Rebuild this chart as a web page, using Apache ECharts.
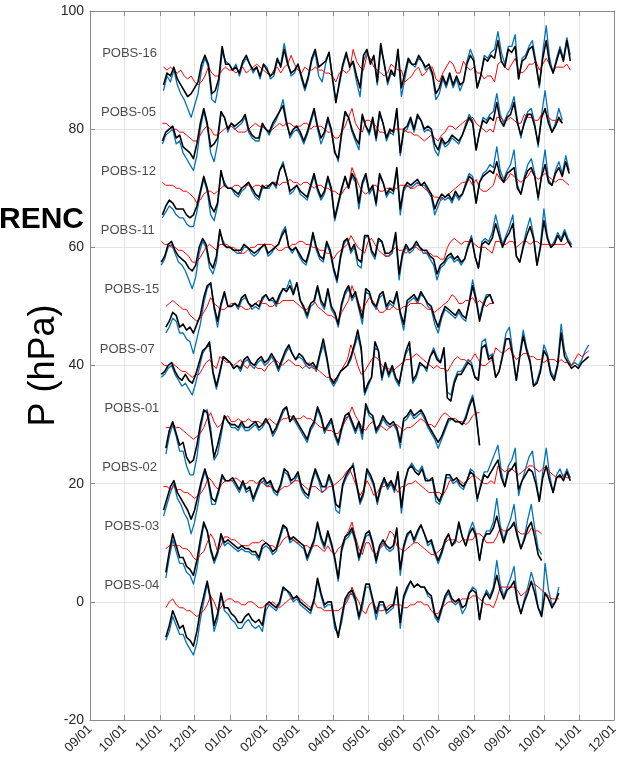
<!DOCTYPE html>
<html>
<head>
<meta charset="utf-8">
<script src="https://cdn.jsdelivr.net/npm/echarts@6/dist/echarts.min.js"></script>
<style>
  html, body { margin: 0; padding: 0; background: #ffffff; }
  #chart { width: 623px; height: 766px; }
</style>
</head>
<body>
<div id="chart"></div>
<script>
// Stations, stacked 10 hPa apart, top to bottom
const stationNames   = ['POBS-16', 'POBS-05', 'POBS-12', 'POBS-11', 'POBS-15', 'POBS-07', 'POBS-01', 'POBS-02', 'POBS-03', 'POBS-04'];
const stationOffsets = [90, 80, 70, 60, 50, 40, 30, 20, 10, 0];
const stationStarts  = ['2018-11-04', '2018-11-03', '2018-11-03', '2018-11-02', '2018-11-06', '2018-11-02', '2018-11-06', '2018-11-04', '2018-11-06', '2018-11-06'];
const STEP_DAYS = 3;

// Pressure anomalies (hPa) sampled every STEP_DAYS days from each station's start
const blue16 = [-3.5,-1,-2,0,-2.5,-4,-5,-6.5,-8,-6,-4,0,2,0.5,-5,-5.5,-2.5,3,1.5,1,
  0,1,-1,1,2,1,-0.5,0.5,-1.5,1,0.5,-1.5,-1,1.5,1,4.5,1.5,-1,-0.5,1,
  -1.5,-3.5,-1.5,1.5,3,-1,-2,1,3,-1,-5,-2.5,0.5,2.5,1,1,-2,-4.5,1.5,3,
  1.5,2,-2.5,3.5,1.5,-2.5,-0.5,-1,3,-4.5,-1.5,1.5,1,0.5,2,1.5,0,0.5,-1,-5,
  -4,-1.5,-3,-1,-3,-1.5,-3.5,-2,1.5,3.5,2,-3,-1,2.5,2,3,3.5,6.5,3,1,
  4,4,6,-1.5,2,2.5,4,5,1.5,-3,3,7.5,2,-0.5,2,4,2,5.5,2.5];
const red16 = [0.5,0,0.5,0,-0.5,0,-1,-1.5,-1,-2,-2.5,-2,-1,0.5,-0.5,-1,-1,0,0.5,0,
  0,-0.5,0,0.5,-0.5,0,0.5,1,0.5,0,-0.5,-1,0,0.5,-0.5,0.5,1,2.5,1,0,
  -0.5,0.5,0,0,0.5,0,0,-0.5,-0.5,-1,-2,-0.5,0,-0.5,0,3.5,1.5,0.5,0,2.5,
  2,0.5,0,-0.5,-1,-0.5,1,0.5,0,0,-2,-1.5,-1,0,0.5,-1,-0.5,0.5,0.5,-1.5,
  -2,-0.5,0.5,1.5,1,-0.5,-0.5,1.5,0.5,0,0.5,-0.5,-0.5,-1.5,-1,-1,-2,1,1.5,0.5,
  0,1,2,0,-0.5,0,1,1,1.5,0,1,2,1,0,0.5,0.5,0.5,1,0];
const black16 = [-2.5,-0.5,-1,0.5,-1.5,-2.5,-3.5,-4.5,-4,-3,-2,1,2.5,1,-4,-3.5,-1.5,4,1,1,
  0,0.5,-0.5,1.5,2.5,1,0,0.5,-1,1,0,-1,-0.5,2,0.5,3.5,1,-0.5,0,1,
  -1,-3,-1,2,3.5,0.5,1,1.5,3,-1.5,-5.5,-2,1,3,0.5,1.5,-1,-3,2.5,3.5,
  1,2.5,-2,4.5,1,-2,0,-1,3.5,-3,-0.5,2,1,1,2.5,1.5,0.5,1,-0.5,-4,
  -3,-1,-2.5,-0.5,-2.5,-1,-2.5,-2,1,2.5,1.5,-3,-1,2,1.5,2.5,2,5,1.5,0.5,
  3.5,3,4,-1.5,1.5,2,3.5,4,1,-2.5,2,5,1,-0.5,1.5,3.5,1.5,5,1.5];

const blue05 = [-2.5,-1,-0.5,0,-2.5,-2,-4,-5,-6,-7,-4.5,0,3,0.5,-4,-5.5,-2.5,2.5,2,-0.5,
  1,0,0.5,1,2,-0.5,-1.5,-2,-2,0.5,0,-1,0.5,1.5,3,5,1.5,-1.5,-0.5,0,
  -1,-2.5,-1,1,3,0,-2.5,-1,1.5,-0.5,-3.5,-5.5,-1,2.5,2,-0.5,-2,-3.5,2,0.5,
  -1,1.5,-2,2.5,1,-2,-0.5,-1,3,-4.5,-0.5,0,1.5,-0.5,2,1.5,-0.5,0,-0.5,-3.5,
  -4.5,-2,-3,-2.5,-1.5,-2,-2.5,-1,1,2.5,1.5,-3.5,-0.5,2,1.5,2.5,3,6,2.5,1,
  2.5,3.5,5.5,1.5,-1.5,1.5,3,3.5,1,-3,2.5,6.5,2,-0.5,1,3.5,1.5];
const red05 = [1,1,0.5,0,0,-0.5,-0.5,-1,-1.5,-2,-2,-1,0,0.5,0,-1,-1,-0.5,0,0.5,
  0.5,0,-0.5,-0.5,-0.5,0,0.5,1,0.5,0.5,0,-0.5,0,0.5,1,0.5,1,1,0.5,0.5,
  0.5,1,1,0,0.5,0.5,0.5,0,-0.5,-0.5,-1.5,-1.5,-0.5,0.5,2,3.5,1,0,-0.5,1.5,
  1.5,1,0.5,-0.5,-0.5,-1,-0.5,0,0,0,0,-0.5,-0.5,-1,-1,-1.5,-2,-1.5,-1,-1.5,
  -2,-1,-0.5,0.5,0.5,0,0.5,1,1.5,1.5,2,1,0.5,0,-0.5,0,-0.5,2,2,1.5,
  1.5,2,1.5,1,1,2.5,2,2,1.5,1.5,2.5,3,2,1.5,1.5,1.5,1];
const black05 = [-2,-0.5,0,0.5,-1.5,-1,-3,-3.5,-4,-5,-2.5,1,3.5,1,-3,-2.5,-1.5,3,2,0,
  1,0.5,1,1.5,2.5,0,-1,-1.5,-1.5,1,0,-0.5,1,2,3,4,1,-1,0,0.5,
  -0.5,-2,-0.5,1.5,3.5,0.5,-1.5,-0.5,2,0,-4,-5,-0.5,3,2,0,-1.5,-2.5,2.5,0.5,
  -0.5,2,-1.5,3,1,-1.5,0,-0.5,3.5,-4,0,0.5,2,0,2.5,1.5,0,0.5,0,-2.5,
  -3.5,-1.5,-2.5,-2,-1,-1.5,-2,-1,0.5,2,1,-3.5,-0.5,1.5,1,2,1.5,4.5,1.5,0.5,
  2,2.5,4.5,1,-1,1,2.5,2.5,0.5,-2.5,2,3.5,1,-0.5,0.5,2,1];

const blue12 = [-5,-4,-3,-3.5,-4.5,-5,-5,-6,-6.5,-6.5,-4,-1,1.5,-0.5,-4.5,-5.5,-3,2.5,1,0,
  0,-1,-1.5,-0.5,0,1,-0.5,-1.5,-2,0,0,0,1,0,3,4.5,2,-1,-0.5,0.5,
  -1,-1.5,-2,0,2,-0.5,-2,-1,1.5,-0.5,-5.5,-3,-0.5,2,0,2,1,-3.5,0.5,2,
  -1,0,-3,2,1,-1.5,-0.5,-1,3,-4.5,-0.5,0.5,0,0.5,1,0.5,0.5,-0.5,-1.5,-4.5,
  -3,-1.5,-2,-1.5,-2.5,-1,-2,-1,1,2.5,2,-2.5,1,2.5,3,4,3.5,7,3,1.5,
  3,4,6.5,0.5,-1,2,4,5,2.5,-2,2.5,6.5,1.5,0.5,3,4.5,2.5,5.5,3];
const red12 = [1,0.5,0.5,0.5,0,0,-0.5,-0.5,-1,-1.5,-2.5,-2,-1,-0.5,-0.5,-1,-0.5,0,0.5,0,
  0,0.5,0.5,0,0.5,0.5,0,0.5,0.5,0,0.5,0.5,1,1,0.5,1,1,1.5,1,1,
  0.5,1,1,0.5,0,0.5,0.5,0,0,-0.5,-0.5,-1,-1,0,0.5,3.5,2,0.5,-0.5,-1,
  -0.5,0.5,0.5,-0.5,-0.5,0,0,0,0,0.5,0.5,0.5,0,0,0.5,0.5,0,-0.5,-1,-1.5,
  -1.5,-2,-1.5,-1,-0.5,0,0.5,1,1,1.5,0.5,1.5,0,-0.5,-0.5,0,0.5,2.5,1.5,1,
  1.5,2.5,2,1.5,1,1.5,2,3,2,1.5,2,2.5,2,1.5,1,1.5,1.5,1,0.5];
const black12 = [-4.5,-3,-2,-2.5,-3.5,-3.5,-3.5,-4.5,-5,-4.5,-3,-0.5,2,0,-3,-4,-2.5,3,0.5,0,
  0,-0.5,-1,0,0.5,1,0,-1,-1.5,0.5,0,0.5,1,0.5,3,4,2,-0.5,0,0.5,
  -0.5,-1,-1.5,0.5,2.5,0,-1.5,-0.5,2,0,-5,-2.5,0,2,0,2.5,1.5,-2.5,1,2.5,
  -0.5,0.5,-2.5,2.5,1,-1,0,-0.5,3.5,-3.5,0,1,0.5,1,1.5,0.5,1,0,-1,-3.5,
  -2,-1,-1.5,-1,-2,-0.5,-1.5,-1,0.5,2,1.5,-2.5,1,2,2.5,3,2.5,4.5,2,1,
  2.5,3,3.5,0,-1,1.5,3,3.5,2,-1.5,2,4,1,0.5,2.5,3.5,2,4.5,2.5];

const blue11 = [-3,-2,0,0.5,-1,-2.5,-3,-4,-5.5,-7,-5,-1,1,0,-3.5,-4.5,-2.5,2.5,1,0,
  0,-0.5,-1,-1,0,0,-1,-1.5,-1,0,0.5,-1.5,-1,0,0.5,2.5,3.5,0,-1,0,
  -1.5,-2.5,-3,-1,2,-0.5,-2,-2.5,0.5,-1,-4,-6,-2,0.5,1.5,-1,0,-3,-3.5,1.5,
  2,-1,-2,1,1,-1.5,-1.5,-1,2,-5.5,-1.5,0,-1,-0.5,0.5,0,-1,-1,-2,-3,
  -5.5,-3.5,-3,-2,-1.5,-2.5,-2,-3,-2,0.5,2,-1.5,-3.5,1,1.5,1,2.5,5.5,3,0.5,
  2,3.5,5.5,-1.5,-2.5,0.5,3,5,2,-3,0.5,6.5,2,0,1,2.5,1.5,3,1.5,0.5];
const red11 = [1,0.5,0.5,0,0,-0.5,-0.5,-1,-1.5,-2.5,-2.5,-2,-1,0,0.5,0,-0.5,0.5,0.5,0.5,
  0,0,-0.5,-1,-1,-0.5,0,0,0.5,0.5,0.5,0.5,0.5,0,-0.5,-0.5,0,0,0.5,0.5,
  1,1,0.5,0.5,0,0,-0.5,-0.5,-1,-1,-2,-1,-0.5,0,0.5,2,1,0,-0.5,-1,
  1,1.5,0.5,-0.5,-1,-1.5,-1.5,-0.5,0,-0.5,-0.5,-1,-0.5,0,0,-0.5,-0.5,-1,-1,-1.5,
  -1.5,-2,-2,0,1,1.5,1,0.5,1,1,1,0.5,0,0,0,-0.5,-1,1,1,0.5,
  0.5,1,1,0,0.5,1,1,0.5,1,1,0.5,0.5,0.5,0.5,0.5,0.5,0.5,0.5,1,0.5];
const black11 = [-2.5,-1.5,0.5,1,-0.5,-1.5,-2,-2.5,-3.5,-4,-3,0,1.5,0.5,-2.5,-3.5,-1.5,3,0.5,0,
  0,-0.5,-0.5,-0.5,0.5,0,-0.5,-1,-0.5,0,0.5,-1,-0.5,0,0.5,2,3,0,-0.5,0,
  -1,-2,-2.5,-0.5,2.5,0,-1.5,-2,1,-0.5,-3.5,-5.5,-1.5,1,1.5,-0.5,0.5,-2,-2.5,2,
  2,-0.5,-1.5,1.5,1,-1,-1,-0.5,2.5,-4.5,-1,0.5,-0.5,0,1,0,-0.5,-0.5,-1.5,-2,
  -4.5,-3,-2.5,-1.5,-1,-2,-1.5,-2.5,-2,0,1.5,-1.5,-3.5,0.5,1,0.5,1.5,4,2,0,
  1.5,2.5,4,-1.5,-2.5,0,2,3.5,1.5,-3,0,4.5,1.5,0,0.5,2,1,2.5,1,0];

const blue15 = [-4.5,-3.5,-2,-2.5,-4.5,-4.5,-5.5,-6,-8,-5.5,-3,0.5,3,4,-0.5,-3.5,0,2,0,0,
  0.5,-0.5,1,1.5,0.5,-0.5,0,-0.5,1,2,1,1,0,1.5,3,3,4.5,2.5,4,1,
  -0.5,-2,0,0.5,3,0.5,-0.5,2.5,-0.5,-1.5,-3.5,0,2,3,1,2,-0.5,-3,2.5,2,
  0.5,-0.5,1.5,2,-0.5,0.5,0,2,-1.5,-4,0.5,1,1.5,0.5,2,1.5,0,-0.5,-3,-4.5,
  -2,-0.5,-1,-1.5,-2,-1,-2,-2.5,1,4.5,1.5,-2,0.5,2,2,0.5];
const red15 = [0,0.5,1,0.5,0,-0.5,-0.5,-1.5,-2,-2.5,-2,-1,0,1.5,0.5,0,-0.5,-0.5,0,0.5,
  0.5,0,0,-0.5,-0.5,0,0.5,1,0.5,0.5,0,0,0.5,0.5,1,1,1,1,0.5,0,
  -0.5,-0.5,0.5,1,0,-0.5,-1,-1.5,-1.5,-2,-2.5,-1,0,1,3.5,2,0.5,-1,0.5,1.5,
  1,0,-1,-1,-0.5,-0.5,0,-0.5,-0.5,0,0,0.5,0.5,0.5,0.5,0,-0.5,-0.5,-1,-0.5,
  0,0.5,1,2,1.5,0.5,0.5,1,1,1.5,0.5,1,0.5,0,0.5,0.5];
const black15 = [-3.5,-2.5,-1,-1.5,-3.5,-3,-4,-3.5,-4.5,-3,-1.5,1.5,3.5,4,0,-2.5,0.5,2.5,0,0,
  0.5,0,1.5,2,0.5,0,0.5,0,1.5,2,1,1.5,0.5,2,3,2.5,3.5,2,4,1,
  0,-1.5,0.5,1,3.5,1,0,3,0,-1,-3,0.5,2.5,3.5,1.5,2.5,0,-2,3,2.5,
  0.5,0,2,2.5,0,1,0.5,2.5,-1,-3,1,1.5,2,1,2.5,1.5,0.5,0,-2,-3.5,
  -1.5,0,-0.5,-1,-1.5,-0.5,-1.5,-2,0.5,3.5,1,-2.5,0,1.5,2,0.5];

const blue07 = [-2,-1.5,-0.5,0,-1.5,-2.5,-3.5,-3,-4,-5,-3,-0.5,2,3,3.5,-1.5,-4,-1.5,1.5,1,
  0.5,-0.5,0,-1,0.5,1,0,-0.5,0.5,1,0,0.5,1.5,0.5,-1,0.5,2,3,2,1,
  1.5,1,0,-0.5,0,-1,1.5,3.5,1,-2.5,-3.5,-2.5,-1,-0.5,0,1,3,5,2.5,-5,
  -3.5,-2,3,2.5,-2.5,0,-2,-0.5,-2.5,-3.5,0,2,3,-3,-2,0,0,-1,1.5,3,
  1.5,0.5,2.5,-4.5,-5,-2.5,-1,-1,0,1,0.5,-2,-2,4,4.5,1.5,2,-2,-1,2,
  5.5,6.5,2,-2.5,2,6,3,1,-3.5,-2.5,-0.5,3.5,2,-1,-2,0.5,7,2.5,1,0,
  0.5,0,1,2.5,3.5];
const red07 = [0.5,0,0,0.5,0,-0.5,-1,-1,-1.5,-2,-1.5,-1.5,-0.5,0.5,1,0,-0.5,1.5,1,0.5,
  0.5,0,0.5,1,0,-0.5,0.5,0,-0.5,-0.5,-1,0,0.5,1,0.5,0,0.5,1,0.5,0,
  0,-0.5,0,0.5,-0.5,-0.5,-1,-1.5,-2,-2,-2.5,-2,-1,0,1,3.5,2,0,-1.5,-1,
  0,1,1.5,1,0,-0.5,-0.5,-1,-0.5,0,0.5,1,1,1.5,2,1.5,1,0.5,0,-0.5,
  0,-0.5,-0.5,-1,0,1,1.5,1,1,0.5,1,2,1,0,0,0.5,1,3,2.5,2,
  2.5,3,2,1,1.5,2,2,1.5,1.5,1,1,0.5,1,1,1,0.5,1,0.5,0.5,0,
  1,2,1.5,2,2.5];
const black07 = [-1.5,-1,0,0.5,-1,-2,-2.5,-1.5,-2.5,-3,-1.5,0.5,2.5,3,4,-1,-3.5,-1,1.5,1,
  0.5,-0.5,0,-0.5,1,1.5,0.5,0,1,1.5,0.5,1,2,1,-0.5,1,2.5,3.5,2,1,
  2,1.5,0.5,0,0.5,-0.5,2,4.5,1.5,-2,-3,-2,-1,-0.5,0,1.5,3.5,6,3,-4.5,
  -3,-2,4,2.5,-2,0.5,-1.5,0,-2,-3,0,2.5,4,-2.5,-1.5,0.5,0,-0.5,1.5,2.5,
  1,0.5,3,-5.5,-6,-3,-1.5,-1.5,-0.5,0.5,0,-2,-2.5,3,3.5,1,1.5,-2,-1,1.5,
  4.5,4.5,1.5,-2.5,1.5,5,2.5,0.5,-3.5,-3,-1,2.5,1.5,-1.5,-2.5,0,5.5,1.5,0.5,-0.5,
  0,-0.5,0.5,1,1.5];

const blue01 = [-5,-2,0,-2,-4.5,-4.5,-7,-8.5,-8.5,-5.5,-1,2,2.5,-0.5,-6,-5,-2,1.5,0.5,-0.5,
  -0.5,-1,0,-1,-1,-0.5,0,-1,-0.5,0.5,0,-2,-1,0.5,2,3,0.5,1,0,-1,
  -2,-3,-1,0,2.5,1,-1.5,-0.5,0.5,-2,-3.5,-1,1,1.5,0,-1.5,0,-2.5,3,1.5,
  1,-1.5,-0.5,1,0,-0.5,0,-1,-4,0.5,1,2,1,1.5,2,1,-0.5,-1.5,-2.5,-4,
  -2.5,-1,0.5,1,0.5,0.5,0,1.5,3.5,5,2,-3.5];
const red01 = [-0.5,-0.5,0,-0.5,-0.5,-1,-1.5,-2,-2.5,-2,-1.5,-0.5,1,2,0.5,-0.5,0,1,1.5,0.5,
  0.5,1,0.5,0.5,1,0.5,0.5,0.5,0,0.5,1,0.5,0,0.5,1,1,1.5,1,1,1,
  1.5,1,1,0.5,0,-0.5,-0.5,-1,-1,-1.5,-1.5,-0.5,0.5,1.5,3,1.5,0.5,-0.5,-1,0,
  0.5,-0.5,0,-0.5,-1,-0.5,0,0,-0.5,-1,-0.5,-0.5,0,0.5,1,0.5,0,0,-0.5,0.5,
  1.5,2,1.5,1,1,0.5,0.5,0,0.5,1.5,2,2];
const black01 = [-4,-1,0.5,-1.5,-3.5,-3,-5.5,-6.5,-6,-3.5,0,2.5,2,-1.5,-5.5,-3.5,-1,1.5,0.5,0,
  0,-0.5,0.5,-0.5,-0.5,0,0.5,-0.5,0,1,0,-1.5,-0.5,1,2.5,3,0.5,1.5,0.5,-0.5,
  -1.5,-2.5,-0.5,0.5,3,1.5,-1,0,1,-1.5,-3,-0.5,1.5,2,0.5,-1,0.5,-1.5,3.5,2,
  1.5,-1,0,1.5,0.5,0,0.5,-0.5,-3,1,1.5,2.5,1.5,2,2.5,1.5,0,-1,-2,-3,
  -2,-0.5,1,1,0.5,0.5,0,1,3,4.5,1.5,-3.5];

const blue02 = [-5.5,-3.5,-1.5,0,-2.5,-3.5,-5,-6,-8.5,-6.5,-3.5,0,2,0,-3.5,-3.5,-1.5,1,0.5,0.5,
  0.5,-0.5,-1.5,0,-1.5,-1,-3,-1.5,0,0.5,-0.5,0,-1.5,-2,-0.5,2,1.5,0,0.5,1.5,
  -1,-2,-2.5,0,2,0.5,-1.5,-1,1,-0.5,-4.5,-5,-0.5,1,2,3.5,-0.5,-3.5,-2,2,
  1,-0.5,-3.5,-1,0.5,-1,0,-1.5,1.5,-5,0,2.5,3.5,2.5,2,3,1,0.5,0.5,-3,
  -3.5,-2,1,1,0,0.5,-0.5,-1,0.5,2.5,2,-3,0,2,2,3.5,5,6.5,2,-0.5,
  3,4,6,-2,0.5,2.5,4.5,5.5,1,-3,2,6,1.5,-1.5,1.5,2.5,1,2.5,1];
const red02 = [-0.5,-0.5,-1,-0.5,-1,-1,-1.5,-1.5,-2,-2.5,-2,-1.5,-0.5,1,0.5,-0.5,-1,0,0.5,0.5,
  0.5,1,0.5,0,0,0.5,0.5,0,0.5,0,-0.5,-0.5,-1,-1.5,-1,-0.5,-0.5,0,0.5,0.5,
  0,-0.5,-1,-0.5,-0.5,-1,-1.5,-1,-0.5,-0.5,0,0.5,1,2,2.5,1,-0.5,-2,-1,0.5,
  -0.5,-2,-1.5,-0.5,-0.5,0,0.5,-0.5,-1.5,-0.5,-0.5,0,0,0.5,0,-0.5,-1,-1.5,-1.5,-1.5,
  -1.5,-2,-1,0.5,0.5,1,0.5,0,0.5,1,1.5,1,0.5,0,0,0.5,0,3,2.5,2,
  2.5,2.5,2,1.5,2,2.5,3,3,2.5,2,2.5,3,2,1.5,1,1,1.5,1,1];
const black02 = [-4.5,-2.5,-0.5,0.5,-1.5,-2.5,-3.5,-4.5,-6,-4.5,-2,0.5,2.5,0.5,-2.5,-3,-1,1.5,0.5,0.5,
  1,0,-1,0.5,-1,-0.5,-2.5,-1,0.5,1,0,0.5,-1,-1.5,0,2.5,2,0.5,1,2,
  -0.5,-1.5,-2,0.5,2.5,1,-0.5,-0.5,1.5,0,-3.5,-4,0,1.5,2.5,3,0,-3,-1.5,2.5,
  1.5,0,-3,-0.5,1,-0.5,0.5,-1,2,-4,0.5,2.5,3,2,1.5,2.5,0.5,0.5,1,-2,
  -3,-1.5,1.5,1.5,0.5,1,0,-0.5,0.5,2,1.5,-2.5,-0.5,1.5,1,2,3,4,1,-0.5,
  2,2.5,3.5,-1,0.5,1.5,2.5,2,0,-3,1,3,0.5,-1.5,1,1.5,0.5,2,0.5];

const blue03 = [-6,-2.5,0.5,-1.5,-3.5,-3.5,-5,-5.5,-7,-4.5,-0.5,3,2,-1.5,-3.5,-2,1,-0.5,0,-0.5,
  -1,-1.5,-1,-1.5,-1.5,-2,-2,-3,-1,-0.5,-1,-2,-1.5,0.5,2.5,2.5,0,0.5,0,-0.5,
  -1,-3,-1.5,0,3,0.5,-1,1.5,-0.5,-3,-6.5,-1.5,0.5,1,2,0,-3,-1,1,1.5,
  -0.5,-3.5,-1,0,-1,-1.5,-1,2,-5.5,-1,1,2,0,1.5,3,1.5,-0.5,0,-2,-3.5,
  -2,0,1.5,-0.5,0,3,1,-0.5,2,3.5,1.5,-3,0.5,2,2,3.5,7.5,3,0.5,2.5,
  4,6.5,1.5,-1,1,4,6.5,2.5,-1,-2];
const red03 = [-1,-0.5,-0.5,-0.5,-0.5,-1,-1,-1.5,-2.5,-3,-2,-1.5,0,1.5,0.5,-1.5,-0.5,1,1,0.5,
  0.5,0,-0.5,-0.5,-0.5,0,0,0,0.5,0,-0.5,-0.5,-1,-0.5,0.5,1,1,0.5,0,0,
  -0.5,-0.5,-1,-0.5,-0.5,-1,-1.5,-0.5,-1.5,-2,-1,-0.5,1,2,3.5,1,-1,-2,0,0,
  -1.5,-2,-1,-0.5,0.5,2,1.5,-0.5,-1,-1.5,-1,-0.5,0,0,-0.5,-1,-1.5,-2,-2,-1.5,
  -1,0,0.5,0.5,0.5,0,0.5,0.5,0.5,0.5,1.5,1.5,1,0,0,0,1,2.5,2,2,
  2.5,3,2,1.5,1.5,1.5,2.5,2,2,1.5];
const black03 = [-5,-1.5,1.5,-0.5,-2.5,-2.5,-4,-4.5,-5.5,-3,0.5,3.5,2,-1,-3,-1.5,1.5,0,0.5,0,
  -0.5,-1,-0.5,-1,-1,-1.5,-1.5,-2.5,-0.5,0,-0.5,-1.5,-1,1,3,2.5,0.5,1,0.5,0,
  -0.5,-2.5,-1,0.5,3.5,1,-0.5,2,0,-2.5,-6,-1,1,1.5,2.5,0.5,-2.5,-0.5,1.5,2,
  0,-3,-0.5,0.5,-0.5,-1,-0.5,2.5,-4.5,-0.5,1.5,2,0.5,2,3,1.5,0,0.5,-1.5,-3,
  -1.5,0.5,1.5,-0.5,0.5,3.5,1,-0.5,1.5,2.5,1,-3,0.5,1.5,1.5,2.5,4.5,2,0,2,
  2.5,3.5,1,-1,0.5,2.5,3.5,1,-2,-3];

const blue04 = [-6.5,-5,-2.5,-4,-5.5,-5.5,-7,-8,-9,-7,-3,0,3,0,-5,-3,1,-1.5,-2,-3,
  -3.5,-4.5,-4.5,-3.5,-3,-4,-4.5,-4,-5,-1.5,-0.5,-1,-1.5,-0.5,2,2,1,0,0.5,-0.5,
  -1,-1.5,-2,0,3.5,1,-1,-0.5,-0.5,-4.5,-5.5,-3.5,0,1,1.5,0,-3,-1,2.5,2.5,
  0,-3,-0.5,-0.5,-2,-1.5,-1,2,-4.5,0.5,2,3.5,2.5,3,2.5,2.5,1,0.5,-2.5,-3.5,
  -1.5,0.5,1.5,0,-0.5,0,-2,-1,1.5,2.5,2,-3,0.5,2,1,2.5,7,3,1,2.5,
  4,6,0.5,-2,0.5,2.5,5,3,-1,-2,6.5,2,-0.5,0,2.5];
const red04 = [-1,0,0.5,-0.5,-1,-1,-1.5,-1.5,-2,-2.5,-2,-1.5,-0.5,1,0,-1.5,-1,0,0.5,0.5,
  0,0,-0.5,-0.5,0,0,-0.5,-1,-1,-0.5,-0.5,0,-0.5,-1,-0.5,0,0.5,0.5,1,0.5,
  0,-0.5,-1,0,-1,-1,-1.5,-1.5,-1.5,-1.5,-1.5,-1,-0.5,0.5,2.5,1,0,-1.5,-2,-0.5,
  0,-1,-1.5,-1.5,-1,-0.5,-0.5,-0.5,-0.5,-1,-1,-0.5,-0.5,0,0,-0.5,-0.5,-1.5,-2,-2,
  -1,-0.5,0,0,0,0,0.5,0.5,0.5,1,1,0.5,0,-0.5,-0.5,-1,0.5,2.5,2.5,2.5,
  2.5,2.5,2,1,1.5,2,3,3,2.5,2,1.5,1,0.5,0.5,0.5];
const black04 = [-6,-4,-1.5,-3,-4.5,-4,-6,-6.5,-7.5,-5,-1.5,1,3.5,0.5,-4,-2,1.5,-1,-1,-2,
  -2.5,-3.5,-3.5,-2.5,-2,-3,-3.5,-3,-4,-0.5,0,-0.5,-1,0,2.5,2,1.5,0.5,1,0,
  -0.5,-1,-1.5,0.5,4,1.5,-0.5,0,0,-3.5,-6,-2.5,0.5,1.5,2,0.5,-2.5,0,3,3,
  0.5,-2,0,0,-1.5,-1,-0.5,2.5,-3.5,1,2.5,3.5,2.5,3,2.5,2.5,1.5,1,-2,-3,
  -1,1,2,0.5,0,0.5,-1,-0.5,1.5,2,1.5,-3,0.5,1.5,0.5,2,4.5,2,0.5,2,
  2.5,3.5,0,-2,0,1.5,3.5,1.5,-1,-2.5,1.5,0.5,-1,0,1.5];

const blueTraces  = [blue16, blue05, blue12, blue11, blue15, blue07, blue01, blue02, blue03, blue04];
const redTraces   = [red16, red05, red12, red11, red15, red07, red01, red02, red03, red04];
const blackTraces = [black16, black05, black12, black11, black15, black07, black01, black02, black03, black04];

// Axis ranges
const yMin = -20, yMax = 100, yStep = 20;
const xStart = '2018-09-01', xEnd = '2019-12-01';

const FONT = '"Liberation Sans", Arial, Helvetica, sans-serif';
const AXIS_COLOR = '#8a8a8a';
const GRID_COLOR = '#e4e4e4';

function parseDay(s, addDays) {
  const p = s.split('-').map(Number);
  return new Date(p[0], p[1] - 1, p[2] + (addDays || 0)).getTime();
}
function toPoints(start, offset, vals) {
  return vals.map((v, i) => [parseDay(start, STEP_DAYS * i), offset + v]);
}
function pad2(n) { return (n < 10 ? '0' : '') + n; }

const series = [];
const traceStyles = [
  { traces: blueTraces,  color: '#0072BD', width: 1.3, z: 2 },
  { traces: redTraces,   color: '#FF0000', width: 1.0, z: 3 },
  { traces: blackTraces, color: '#000000', width: 1.6, z: 4 }
];
stationNames.forEach((name, k) => {
  traceStyles.forEach(ts => {
    series.push({
      type: 'line',
      name: name,
      data: toPoints(stationStarts[k], stationOffsets[k], ts.traces[k]),
      showSymbol: false,
      symbol: 'none',
      smooth: false,
      z: ts.z,
      lineStyle: { color: ts.color, width: ts.width, join: 'round' },
      silent: true
    });
  });
});

// station name tags, placed just left of each record's first sample
series.push({
  type: 'scatter',
  data: stationNames.map((n, k) => ({ name: n, value: [parseDay(stationStarts[k], 0), stationOffsets[k] + 2.8] })),
  symbolSize: 1,
  itemStyle: { color: 'rgba(0,0,0,0)' },
  silent: true,
  z: 5,
  label: {
    show: true,
    position: 'left',
    distance: 6,
    formatter: p => p.name,
    fontFamily: FONT,
    fontSize: 13,
    color: '#1a1a1a'
  }
});

const xCommon = {
  type: 'time',
  min: parseDay(xStart, 0),
  max: parseDay(xEnd, 0),
  splitNumber: 15,
  minInterval: 28 * 864e5,
  maxInterval: 31 * 864e5,
  axisLine: { show: true, onZero: false, lineStyle: { color: AXIS_COLOR, width: 1 } },
  axisTick: { show: true, inside: true, length: 5, lineStyle: { color: AXIS_COLOR } }
};

const chart = echarts.init(document.getElementById('chart'), null, { renderer: 'canvas' });
chart.setOption({
  animation: false,
  backgroundColor: '#ffffff',
  grid: { left: 90, right: 9, top: 11, bottom: 46, containLabel: false, outerBoundsMode: 'none' },
  xAxis: [
    Object.assign({}, xCommon, {
      position: 'bottom',
      axisLabel: {
        show: true,
        rotate: 45,
        margin: 7,
        fontFamily: FONT,
        fontSize: 13,
        color: '#262626',
        hideOverlap: false,
        showMinLabel: true,
        showMaxLabel: true,
        formatter: v => { const d = new Date(v); return pad2(d.getMonth() + 1) + '/' + pad2(d.getDate()); }
      },
      splitLine: { show: true, lineStyle: { color: GRID_COLOR, width: 1 } }
    }),
    Object.assign({}, xCommon, {
      position: 'top',
      axisLabel: { show: false },
      splitLine: { show: false }
    })
  ],
  yAxis: [
    {
      type: 'value',
      min: yMin, max: yMax, interval: yStep,
      position: 'left',
      name: 'P (hPa)',
      nameLocation: 'middle',
      nameGap: 28,
      nameMoveOverlap: false,
      nameTextStyle: { fontFamily: FONT, fontSize: 36, color: '#000000' },
      axisLine: { show: true, onZero: false, lineStyle: { color: AXIS_COLOR, width: 1 } },
      axisTick: { show: true, inside: true, length: 5, lineStyle: { color: AXIS_COLOR } },
      axisLabel: { fontFamily: FONT, fontSize: 14, color: '#262626', margin: 6 },
      splitLine: { show: true, lineStyle: { color: GRID_COLOR, width: 1 } }
    },
    {
      type: 'value',
      min: yMin, max: yMax, interval: yStep,
      position: 'right',
      axisLine: { show: true, onZero: false, lineStyle: { color: AXIS_COLOR, width: 1 } },
      axisTick: { show: true, inside: true, length: 5, lineStyle: { color: AXIS_COLOR } },
      axisLabel: { show: false },
      splitLine: { show: false }
    }
  ],
  graphic: [
    {
      type: 'text',
      left: -1,
      top: 205,
      z: 10,
      style: { text: 'RENC', font: 'bold 30px ' + FONT, fill: '#000000' }
    }
  ],
  series: series
});
</script>
</body>
</html>
